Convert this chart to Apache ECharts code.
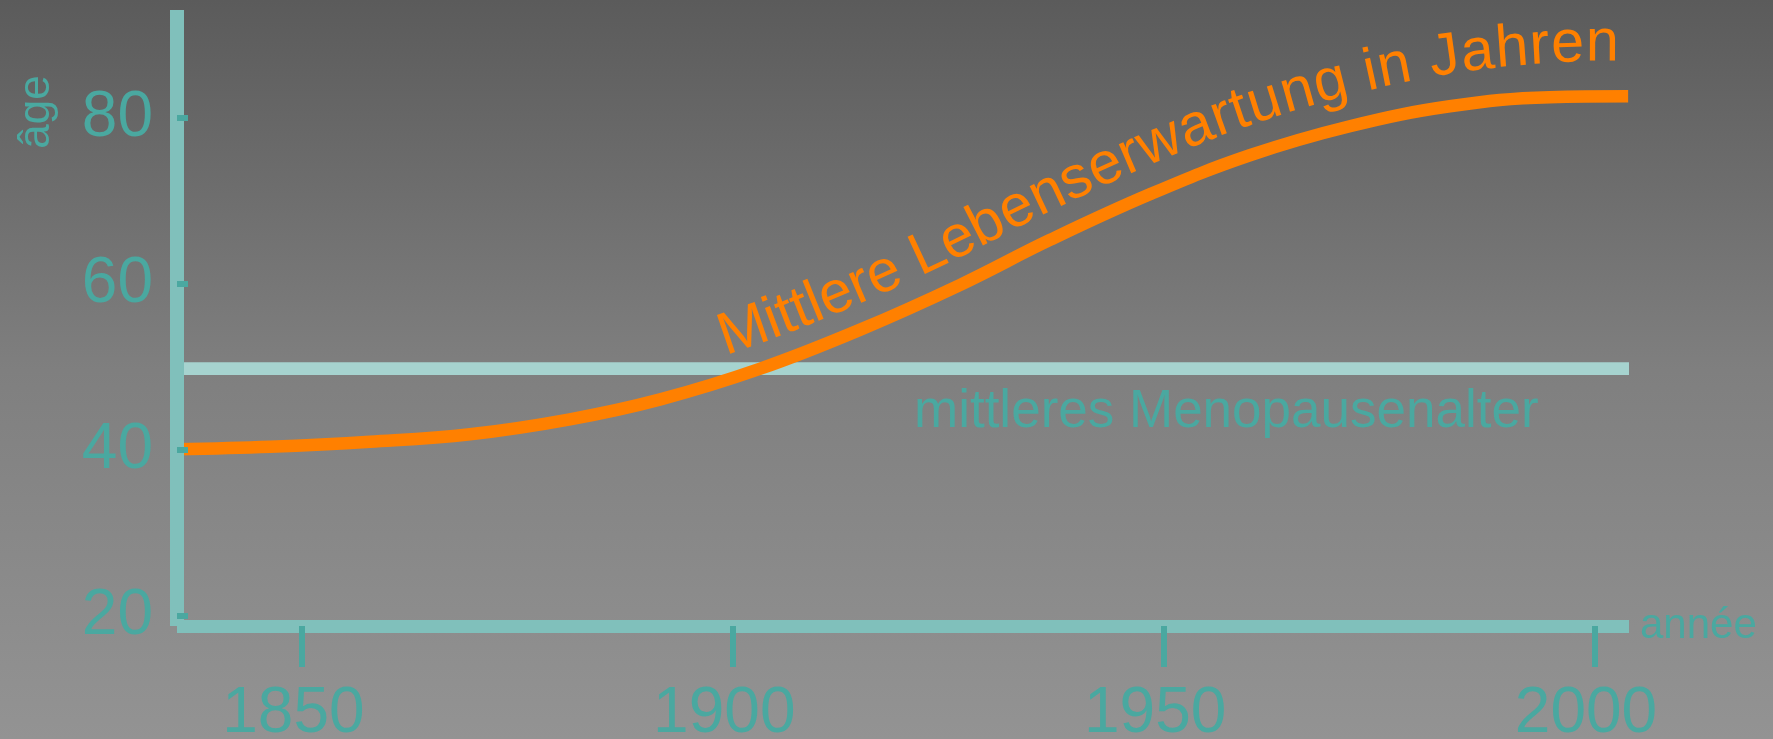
<!DOCTYPE html>
<html><head><meta charset="utf-8">
<script src="https://cdn.jsdelivr.net/npm/echarts@6/dist/echarts.min.js"></script>
<style>html,body{margin:0;padding:0;background:#777;overflow:hidden}#c{width:1773px;height:739px}</style>
</head><body><div id="c"></div>
<script>
// ---- data ----
const years = [1835.5, 1846.3, 1857.9, 1869.5, 1881.1, 1891.6, 1903.2, 1914.8, 1926.4, 1936.8, 1948.4, 1960.0, 1971.6, 1983.2, 1994.8, 2003.9];
const lifeExpectancy = [40.1, 40.4, 41.0, 41.9, 43.7, 46.1, 49.8, 54.5, 59.9, 65.3, 70.8, 75.5, 79.0, 81.4, 82.5, 82.6];
const menopauseAge = 49.8;
const menopauseSpan = [1835.5, 2004];
const xTickValues = [1850, 1900, 1950, 2000];
const yTickValues = [20, 40, 60, 80];
const xRange = [1835.5, 2004];
const yRange = [18.8, 93];
const curveTitle = 'Mittlere Lebenserwartung in Jahren';
const lineTitle = 'mittleres Menopausenalter';
const xName = 'année';
const yName = 'âge';

// ---- styles ----
const FONT = '"Liberation Sans", Arial, Helvetica, sans-serif';
const TEAL = '#4aa8a0', AXIS = '#80c0bb', MENO = '#a6d3cf', ORANGE = '#ff8000';
const BASE = 0.276; // distance from text middle to alphabetic baseline, in em

const chart = echarts.init(document.getElementById('c'), null, {renderer: 'canvas'});
chart.setOption({
  animation: false,
  backgroundColor: {type: 'linear', x: 0, y: 0, x2: 0, y2: 1, colorStops: [
    {offset: 0, color: '#5b5b5b'}, {offset: 0.5, color: '#7f7f7f'}, {offset: 1, color: '#939393'}]},
  grid: {left: 177, right: 144, top: 10, bottom: 113, containLabel: false, outerBoundsMode: 'none'},
  xAxis: {
    type: 'value', min: xRange[0], max: xRange[1], z: 10,
    axisLine: {show: true, onZero: false, lineStyle: {color: AXIS, width: 13, cap: 'butt'}},
    axisTick: {show: true, customValues: xTickValues, length: 41, lineStyle: {color: TEAL, width: 6, cap: 'butt'}},
    axisLabel: {customValues: xTickValues, formatter: v => String(v), color: TEAL, fontSize: 64, fontFamily: FONT,
      margin: 56, padding: [0, 17, 0, 0]},
    splitLine: {show: false},
    name: xName, nameLocation: 'end', nameGap: 11,
    nameTextStyle: {color: TEAL, fontSize: 42, fontFamily: FONT, padding: [9, 0, 0, 0]}
  },
  yAxis: {
    type: 'value', min: yRange[0], max: yRange[1], z: 10,
    axisLine: {show: true, onZero: false, lineStyle: {color: AXIS, width: 14, cap: 'butt'}},
    axisTick: {show: true, inside: true, customValues: yTickValues, length: 11, lineStyle: {color: TEAL, width: 6, cap: 'butt'}},
    axisLabel: {customValues: yTickValues, formatter: v => String(v), color: TEAL, fontSize: 64, fontFamily: FONT,
      margin: 24, padding: [14, 0, 0, 0]},
    splitLine: {show: false}
  },
  series: [
    {type: 'line', data: menopauseSpan.map(x => [x, menopauseAge]), symbol: 'none',
     lineStyle: {color: MENO, width: 12.7, cap: 'butt'}, z: 2, silent: true},
    {type: 'line', data: years.map((y, i) => [y, lifeExpectancy[i]]), symbol: 'none',
     smooth: 0.4, lineStyle: {color: ORANGE, width: 12.5, cap: 'butt'}, z: 3, silent: true}
  ]
});

// ---- text following the curve ----
const px = years.map((y, i) => chart.convertToPixel({gridIndex: 0}, [y, lifeExpectancy[i]]));
const dense = [];
for (let i = 0; i < px.length - 1; i++) {
  const p0 = px[Math.max(0, i - 1)], p1 = px[i], p2 = px[i + 1], p3 = px[Math.min(px.length - 1, i + 2)];
  for (let k = 0; k < 30; k++) {
    const t = k / 30, t2 = t * t, t3 = t2 * t;
    const f = j => 0.5 * (2 * p1[j] + (-p0[j] + p2[j]) * t + (2 * p0[j] - 5 * p1[j] + 4 * p2[j] - p3[j]) * t2 + (-p0[j] + 3 * p1[j] - 3 * p2[j] + p3[j]) * t3);
    dense.push([f(0), f(1)]);
  }
}
dense.push(px[px.length - 1]);
const cum = [0];
for (let i = 1; i < dense.length; i++) cum.push(cum[i - 1] + Math.hypot(dense[i][0] - dense[i - 1][0], dense[i][1] - dense[i - 1][1]));
function pointAt(s) {
  s = Math.max(0, Math.min(cum[cum.length - 1], s));
  let i = 1;
  while (i < cum.length - 1 && cum[i] < s) i++;
  const a = dense[i - 1], b = dense[i], seg = cum[i] - cum[i - 1] || 1, u = (s - cum[i - 1]) / seg;
  return [a[0] + (b[0] - a[0]) * u, a[1] + (b[1] - a[1]) * u];
}
const F = 59.5;
const ctx = document.createElement('canvas').getContext('2d');
ctx.font = F + 'px ' + FONT;
const startX = 732;
let s0 = 0;
for (let i = 0; i < dense.length; i++) { if (dense[i][0] >= startX) { s0 = cum[i]; break; } }
const total = ctx.measureText(curveTitle).width;
const graphics = [];
let pen = 0;
for (const ch of curveTitle) {
  const w = ctx.measureText(ch).width * 1.006;
  const sc = s0 + pen + w / 2;
  const p = pointAt(sc), pa = pointAt(sc - 18), pb = pointAt(sc + 18);
  let tx = pb[0] - pa[0], ty = pb[1] - pa[1];
  const L = Math.hypot(tx, ty) || 1; tx /= L; ty /= L;
  const nx = ty, ny = -tx;
  const t = (pen + w / 2) / total;
  const d = 24 + 12 * t * t + BASE * F;
  if (ch !== ' ') {
    graphics.push({type: 'text', x: p[0] + nx * d, y: p[1] + ny * d, rotation: Math.atan2(-ty, tx), z: 50, silent: true,
      style: {text: ch, fill: ORANGE, fontSize: F, fontFamily: FONT, align: 'center', verticalAlign: 'middle'}});
  }
  pen += w;
}
graphics.push({type: 'text', x: 914, y: 427 - BASE * 53, z: 50, silent: true,
  style: {text: lineTitle, fill: TEAL, fontSize: 53, fontFamily: FONT, align: 'left', verticalAlign: 'middle'}});
graphics.push({type: 'text', x: 37, y: 112, rotation: Math.PI / 2, z: 50, silent: true,
  style: {text: yName, fill: TEAL, fontSize: 44, fontFamily: FONT, align: 'center', verticalAlign: 'middle'}});
chart.setOption({graphic: graphics});
</script>
</body></html>
